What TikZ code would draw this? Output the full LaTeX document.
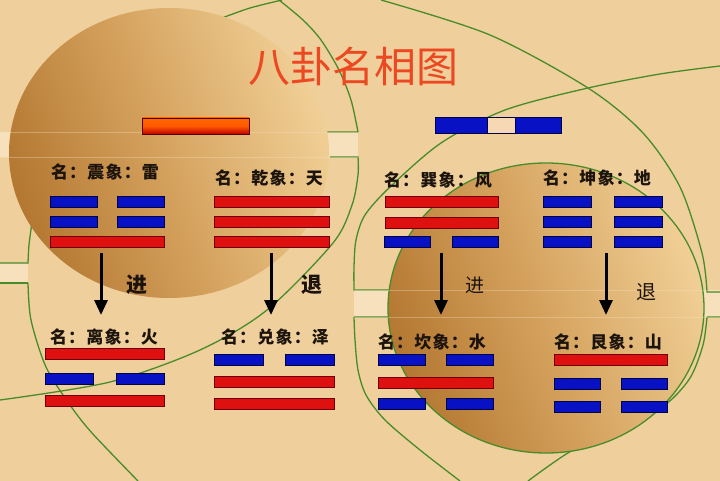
\documentclass[tikz,border=0pt]{standalone}
\usepackage{fontspec}
\newfontfamily\cjk{Noto Sans CJK SC}
\newfontfamily\cjkwide[LetterSpace=7]{Noto Sans CJK SC}
\usetikzlibrary{arrows.meta}

\definecolor{paper}{RGB}{239,207,155}
\definecolor{band}{RGB}{246,225,188}
\definecolor{tanlight}{RGB}{240,207,150}
\definecolor{tanmid}{RGB}{214,164,96}
\definecolor{tandark}{RGB}{180,120,50}
\definecolor{ring}{RGB}{72,140,42}
\definecolor{yangred}{RGB}{222,16,16}
\definecolor{yangedge}{RGB}{110,0,0}
\definecolor{yinblue}{RGB}{8,18,196}
\definecolor{yinedge}{RGB}{0,0,70}
\definecolor{gapbeige}{RGB}{246,216,180}
\definecolor{titlered}{RGB}{236,72,34}
\definecolor{ink}{RGB}{28,20,12}

\begin{document}
\begin{tikzpicture}[x=1pt,y=-1pt,
        yang/.style={draw=yangedge,fill=yangred,line width=0.8pt,inner sep=0pt,
            minimum width=115pt,minimum height=11pt},
        yin/.style={draw=yinedge,fill=yinblue,line width=0.8pt,inner sep=0pt,
            minimum width=47pt,minimum height=11pt},
        gua/.style={text=ink,font=\cjkwide\bfseries\fontsize{17}{17}\selectfont,inner sep=0pt},
        move/.style={text=ink,font=\cjk\bfseries\fontsize{21}{21}\selectfont,inner sep=0pt},
        greenline/.style={draw=ring,line width=1.3pt},
        push/.style={line width=3pt,-{Triangle[length=15pt,width=13pt]}}]
        %% Background
        \useasboundingbox (0,0) rectangle (720,481);
        \fill[paper] (0,0) rectangle (720,481);
        \begin{scope}
            \clip (0,0) rectangle (720,481);
            \fill[band] (0,132) rectangle (358,157);
            \fill[band] (0,263) rectangle (28,283);
            \fill[band] (354,290) rectangle (720,317);
            %% Rings
            \draw[greenline] plot[smooth] coordinates {(0,400) (110,382) (200,350) (267,310) (333,243) (352,205) (358,175) (358,157)} -- (330,157);
            \draw[greenline] (322,132) -- (358,132) plot[smooth] coordinates {(358,132) (351,100) (339,70) (321,40) (303,20) (279,0)};
            \draw[greenline] plot[smooth] coordinates {(720,66) (660,74) (588,88) (505,110) (441,143) (390,187) (365,215) (356,240) (354,267) (354,290)} -- (390,290);
            \draw[greenline] (390,317) -- (354,317) plot[smooth] coordinates {(354,317) (355,340) (358,370) (366,395) (385,420) (420,450) (460,481)};
            \draw[greenline] plot[smooth] coordinates {(381,0) (490,35) (588,88) (643,133) (680,187) (702,253) (707,292)} -- (720,292);
            \draw[greenline] (720,317) -- (707,317) plot[smooth] coordinates {(707,317) (703,345) (690,378) (665,405) (620,432) (573,450) (528,481)};
            \draw[greenline] plot[smooth] coordinates {(28,283) (31,320) (46,367) (70,405) (92,433) (138,481)};
            \draw[greenline] plot[smooth] coordinates {(32,222) (29,245) (28,263)} -- (0,263);
            \draw[greenline] (0,283) -- (28,283);
            \draw[greenline] plot[smooth] coordinates {(222,18) (250,8) (282,0)};
            %% Discs
            \shade[top color=tanlight,bottom color=tandark,middle color=tanmid,shading angle=-70]
                (169,153) ellipse [x radius=160,y radius=145];
            \shadedraw[draw=ring,line width=1.3pt,top color=tanlight,bottom color=tandark,middle color=tanmid,shading angle=-70]
                (546,308) ellipse [x radius=158,y radius=145];
            \draw[band,line width=0.6pt,opacity=0.35] (0,132) -- (358,132) (0,157) -- (358,157);
            \draw[band,line width=0.6pt,opacity=0.35] (354,290) -- (720,290) (354,317) -- (720,317);
        \end{scope}
        %% Title
        \node[text=titlered,font=\cjk\fontsize{42}{42}\selectfont,inner sep=0pt] (title) at (353,66) {八卦名相图};
        %% Top bars
        \node[draw=yangedge!80!black,line width=0.8pt,inner sep=0pt,minimum width=107pt,minimum height=16pt,
            top color=orange!80!red,bottom color=red!75!black,middle color=orange!70!red] (yangbar) at (195.5,126) {};
        \node[draw=yinedge,fill=yinblue,line width=0.8pt,inner sep=0pt,minimum width=52pt,minimum height=16pt] (yinbarL) at (461,125.5) {};
        \node[draw=yinedge,fill=yinblue,line width=0.8pt,inner sep=0pt,minimum width=46pt,minimum height=16pt] (yinbarR) at (538,125.5) {};
        \node[draw=yinedge,fill=gapbeige,line width=0.8pt,inner sep=0pt,minimum width=28pt,minimum height=16pt] (yingap) at (501,125.5) {};
        %% Labels, upper row
        \node[gua] (zhen) at (105,172) {名：震象：雷};
            \node[yin] (zhen1l) at (73.5,202) {};  \node[yin] (zhen1r) at (141,202) {};
            \node[yin] (zhen2l) at (73.5,222) {};  \node[yin] (zhen2r) at (141,222) {};
            \node[yang,minimum width=114pt] (zhen3) at (107,242) {};
        \node[gua] (qian) at (269,178) {名：乾象：天};
            \node[yang] (qian1) at (271.5,202) {};
            \node[yang] (qian2) at (271.5,222) {};
            \node[yang] (qian3) at (271.5,242) {};
        \node[gua] (xun) at (438,180) {名：巽象：风};
            \node[yang,minimum width=113pt] (xun1) at (441.5,202) {};
            \node[yang,minimum width=113pt] (xun2) at (441.5,222.5) {};
            \node[yin,minimum width=46pt] (xun3l) at (407.5,242) {};  \node[yin,minimum width=46pt] (xun3r) at (475,242) {};
        \node[gua] (kun) at (597,178) {名：坤象：地};
            \node[yin,minimum width=48pt] (kun1l) at (567,202) {};  \node[yin,minimum width=48pt] (kun1r) at (638,202) {};
            \node[yin,minimum width=48pt] (kun2l) at (567,222) {};  \node[yin,minimum width=48pt] (kun2r) at (638,222) {};
            \node[yin,minimum width=48pt] (kun3l) at (567,242) {};  \node[yin,minimum width=48pt] (kun3r) at (638,242) {};
        %% Arrows
        \coordinate (from1) at (101,253);  \coordinate (to1) at (101,315);
        \coordinate (from2) at (271,253);  \coordinate (to2) at (271,315);
        \coordinate (from3) at (441,253);  \coordinate (to3) at (441,315);
        \coordinate (from4) at (606,253);  \coordinate (to4) at (606,315);
        \draw[push] (from1) -- (to1);
        \draw[push] (from2) -- (to2);
        \draw[push] (from3) -- (to3);
        \draw[push] (from4) -- (to4);
        \node[move] (jin1) at (137,285) {进};
        \node[move] (tui1) at (312,285) {退};
        \node[gua,font=\cjk\fontsize{19}{19}\selectfont] (jin2) at (475,285) {进};
        \node[gua,font=\cjk\fontsize{20}{20}\selectfont] (tui2) at (646,292) {退};
        %% Labels, lower row
        \node[gua] (li) at (104,337) {名：离象：火};
            \node[yang,minimum width=119pt] (li1) at (104.5,354) {};
            \node[yin,minimum width=48pt] (li2l) at (69,378.5) {};  \node[yin,minimum width=48pt] (li2r) at (140,378.5) {};
            \node[yang,minimum width=119pt] (li3) at (104.5,401) {};
        \node[gua] (dui) at (275,337) {名：兑象：泽};
            \node[yin,minimum width=49pt] (dui1l) at (238.5,360) {};  \node[yin,minimum width=49pt] (dui1r) at (310,360) {};
            \node[yang,minimum width=120pt] (dui2) at (274,381.5) {};
            \node[yang,minimum width=120pt] (dui3) at (274,403.5) {};
        \node[gua] (kan) at (432,342) {名：坎象：水};
            \node[yin] (kan1l) at (401.5,360) {};  \node[yin] (kan1r) at (470,360) {};
            \node[yang] (kan2) at (435.5,382.5) {};
            \node[yin] (kan3l) at (401.5,404) {};  \node[yin] (kan3r) at (470,404) {};
        \node[gua] (gen) at (608,342) {名：艮象：山};
            \node[yang,minimum width=113pt] (gen1) at (610.5,360) {};
            \node[yin,minimum width=46pt] (gen2l) at (577,383.5) {};  \node[yin,minimum width=46pt] (gen2r) at (644.5,383.5) {};
            \node[yin,minimum width=46pt] (gen3l) at (577,407) {};  \node[yin,minimum width=46pt] (gen3r) at (644.5,407) {};
\end{tikzpicture}
\end{document}
